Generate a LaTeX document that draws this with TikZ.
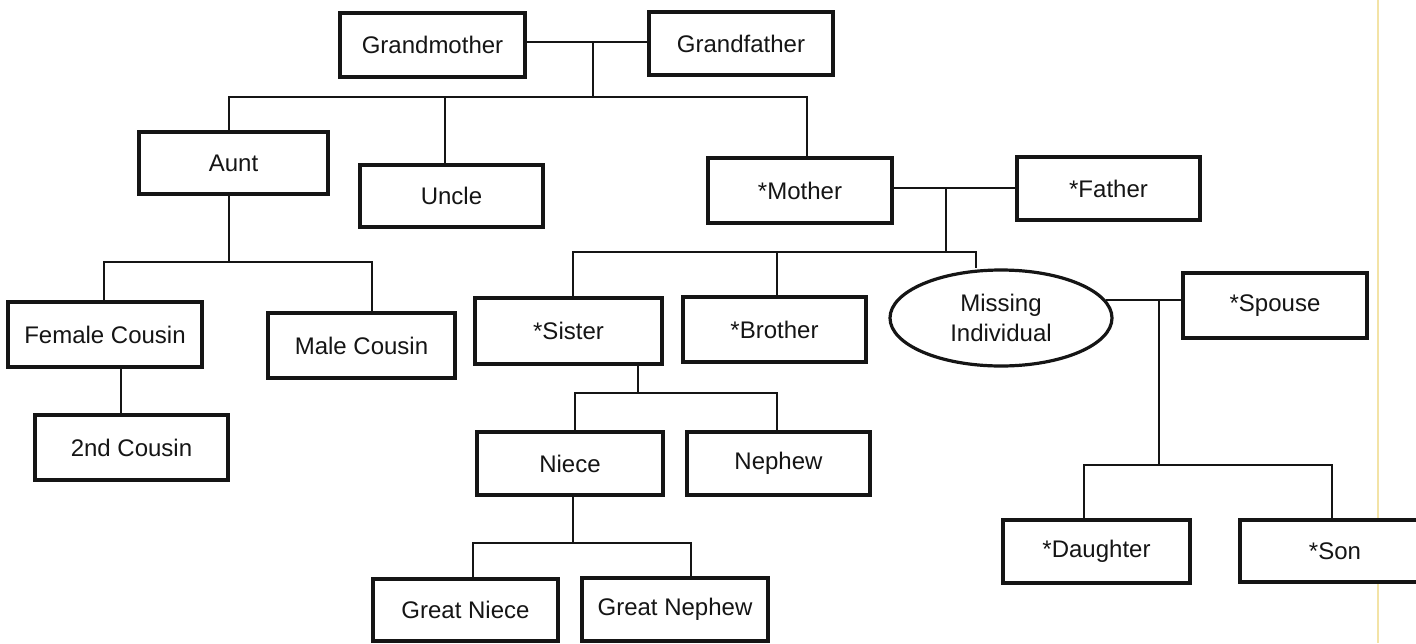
\documentclass[tikz,border=0pt]{standalone}
\usepackage{fontspec}
\setmainfont{Liberation Sans}
\usetikzlibrary{shapes.geometric}
\definecolor{ink}{HTML}{151515}
\definecolor{scanline}{HTML}{F3E3A6}
\tikzset{
  fbox/.style={draw=ink, line width=3.2pt, rectangle, inner sep=0pt, fill=white,
    font=\fontsize{24}{28}\selectfont, text=ink},
  fell/.style={draw=ink, line width=3.2pt, ellipse, inner sep=0pt, fill=white,
    font=\fontsize{24}{30}\selectfont, text=ink, align=center},
  link/.style={draw=ink, line width=2pt},
}
\begin{document}
\begin{tikzpicture}[x=1pt,y=-1pt]
\clip (0,0) rectangle (1416,643);
\fill[white] (0,0) rectangle (1416,643);
\draw[scanline, line width=1.5pt] (1378,0) -- (1378,643);

% nodes
\node[fbox, minimum width=185pt, minimum height=64pt] (gm) at (432.5,45) {Grandmother};
\node[fbox, minimum width=184pt, minimum height=63pt] (gf) at (741,43.5) {Grandfather};
\node[fbox, minimum width=189pt, minimum height=62pt] (aunt) at (233.5,163) {Aunt};
\node[fbox, minimum width=183pt, minimum height=62pt] (uncle) at (451.5,196) {Uncle};
\node[fbox, minimum width=184pt, minimum height=65pt] (mother) at (800,190.5) {*Mother};
\node[fbox, minimum width=183pt, minimum height=63pt] (father) at (1108.5,188.5) {*Father};
\node[fbox, minimum width=194pt, minimum height=65pt] (fcousin) at (105,334.5) {Female Cousin};
\node[fbox, minimum width=187pt, minimum height=65pt] (mcousin) at (361.5,345.5) {Male Cousin};
\node[fbox, minimum width=193pt, minimum height=65pt] (scousin) at (131.5,447.5) {2nd Cousin};
\node[fbox, minimum width=187pt, minimum height=66pt] (sister) at (568.5,331) {*Sister};
\node[fbox, minimum width=183pt, minimum height=65pt] (brother) at (774.5,329.5) {*Brother};
\node[fell, minimum width=222pt, minimum height=96pt] (miss) at (1001,318) {Missing\\Individual};
\node[fbox, minimum width=184pt, minimum height=65pt] (spouse) at (1275,305.5) {*Spouse};
\node[fbox, minimum width=186pt, minimum height=63pt] (niece) at (570,463.5) {Niece};
\node[fbox, minimum width=183pt, minimum height=63pt] (nephew) at (778.5,463.5) {Nephew};
\node[fbox, minimum width=185pt, minimum height=62pt] (gniece) at (465.5,610) {Great Niece};
\node[fbox, minimum width=186pt, minimum height=63pt] (gnephew) at (675,609.5) {Great Nephew};
\node[fbox, minimum width=187pt, minimum height=63pt] (daughter) at (1096.5,551.5) {*Daughter};
\node[fbox, minimum width=190pt, minimum height=62pt] (son) at (1335,551) {*Son};

% junction coordinates
\coordinate (gpmid) at (593,42);
\coordinate (gpbus) at (593,97);
\coordinate (gpL) at (229,97);
\coordinate (gpU) at (445,97);
\coordinate (gpR) at (807,97);
\coordinate (pmid) at (946,188);
\coordinate (pbus) at (946,252);
\coordinate (pL) at (573,252);
\coordinate (pB) at (777,252);
\coordinate (pR) at (976,252);
\coordinate (abus) at (229,262);
\coordinate (aL) at (104,262);
\coordinate (aR) at (372,262);
\coordinate (fcx) at (121,367);
\coordinate (sbus) at (638,393);
\coordinate (sL) at (575,393);
\coordinate (sR) at (777,393);
\coordinate (nbus) at (573,543);
\coordinate (nL) at (473,543);
\coordinate (nR) at (691,543);
\coordinate (mbus) at (1159,465);
\coordinate (mL) at (1084,465);
\coordinate (mR) at (1332,465);

% connectors
\draw[link] (gm.east |- gpmid) -- (gf.west |- gpmid);
\draw[link] (gpmid) -- (gpbus);
\draw[link] (gpL |- aunt.north) -- (gpL) -- (gpR) -- (gpR |- mother.north);
\draw[link] (gpU) -- (gpU |- uncle.north);

\draw[link] (mother.east |- pmid) -- (father.west |- pmid);
\draw[link] (pmid) -- (pbus);
\draw[link] (pL |- sister.north) -- (pL) -- (pR) -- (pR |- miss.north);
\draw[link] (pB) -- (pB |- brother.north);

\draw[link] (aunt.south -| abus) -- (abus);
\draw[link] (aL |- fcousin.north) -- (aL) -- (aR) -- (aR |- mcousin.north);
\draw[link] (fcousin.south -| fcx) -- (fcx |- scousin.north);

\draw[link] (sister.south -| sbus) -- (sbus);
\draw[link] (sL |- niece.north) -- (sL) -- (sR) -- (sR |- nephew.north);

\draw[link] (niece.south -| nbus) -- (nbus);
\draw[link] (nL |- gniece.north) -- (nL) -- (nR) -- (nR |- gnephew.north);

\draw[link] (miss.10) -- (miss.10 -| spouse.west);
\draw[link] (miss.10 -| mbus) -- (mbus);
\draw[link] (mL |- daughter.north) -- (mL) -- (mR) -- (mR |- son.north);
\end{tikzpicture}
\end{document}
